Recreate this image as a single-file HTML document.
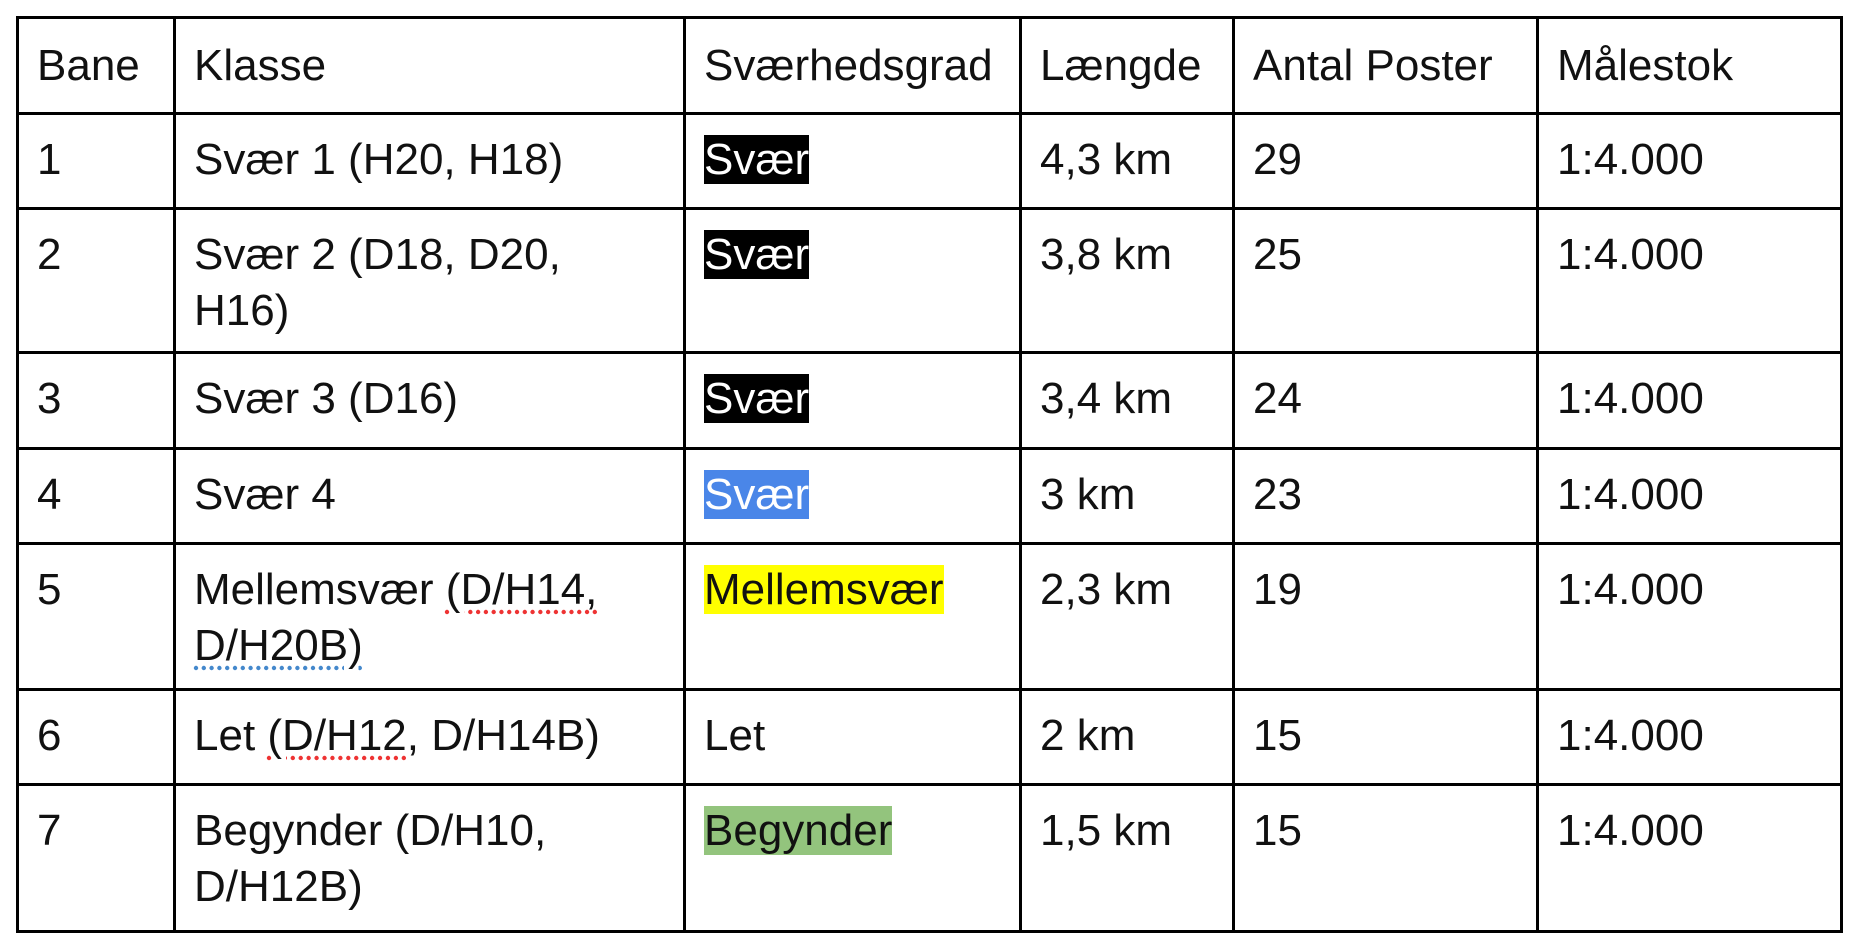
<!DOCTYPE html>
<html><head><meta charset="utf-8"><style>
html,body{margin:0;padding:0;background:#fff;width:1855px;height:947px;overflow:hidden}
table{position:absolute;left:16px;top:16px;border-collapse:collapse;table-layout:fixed;font-family:"Liberation Sans",Arial,sans-serif;font-size:44px;color:#111}
td{border:3px solid #000;vertical-align:top;padding:17px 16px 0 18px;line-height:56px;box-sizing:border-box;white-space:nowrap}
tr.h td{vertical-align:middle;padding-top:0}
.hl{color:#fff;background:#000}
.bl{color:#fff;background:#4a86e8}
.ye{background:#ffff00}
.gr{background:#93c47d}
.ur{text-decoration:underline dotted #e33;text-underline-offset:6px}
.ub{text-decoration:underline dotted #48c;text-underline-offset:6px}
</style></head><body>
<table>
<colgroup><col style="width:157px"><col style="width:510px"><col style="width:336px"><col style="width:213px"><col style="width:304px"><col style="width:304px"></colgroup>
<tr class="h" style="height:96px"><td>Bane</td><td>Klasse</td><td>Sværhedsgrad</td><td>Længde</td><td>Antal Poster</td><td>Målestok</td></tr>
<tr style="height:95px"><td>1</td><td>Svær 1 (H20, H18)</td><td><span class="hl">Svær</span></td><td>4,3 km</td><td>29</td><td>1:4.000</td></tr>
<tr style="height:144px"><td>2</td><td>Svær 2 (D18, D20,<br>H16)</td><td><span class="hl">Svær</span></td><td>3,8 km</td><td>25</td><td>1:4.000</td></tr>
<tr style="height:96px"><td>3</td><td>Svær 3 (D16)</td><td><span class="hl">Svær</span></td><td>3,4 km</td><td>24</td><td>1:4.000</td></tr>
<tr style="height:95px"><td>4</td><td>Svær 4</td><td><span class="bl">Svær</span></td><td>3 km</td><td>23</td><td>1:4.000</td></tr>
<tr style="height:146px"><td>5</td><td>Mellemsvær <span class="ur">(D/H14,</span><br><span class="ub">D/H20B)</span></td><td><span class="ye">Mellemsvær</span></td><td>2,3 km</td><td>19</td><td>1:4.000</td></tr>
<tr style="height:95px"><td>6</td><td>Let <span class="ur">(D/H12</span>, D/H14B)</td><td>Let</td><td>2 km</td><td>15</td><td>1:4.000</td></tr>
<tr style="height:147px"><td>7</td><td>Begynder (D/H10,<br>D/H12B)</td><td><span class="gr">Begynder</span></td><td>1,5 km</td><td>15</td><td>1:4.000</td></tr>
</table>
</body></html>
